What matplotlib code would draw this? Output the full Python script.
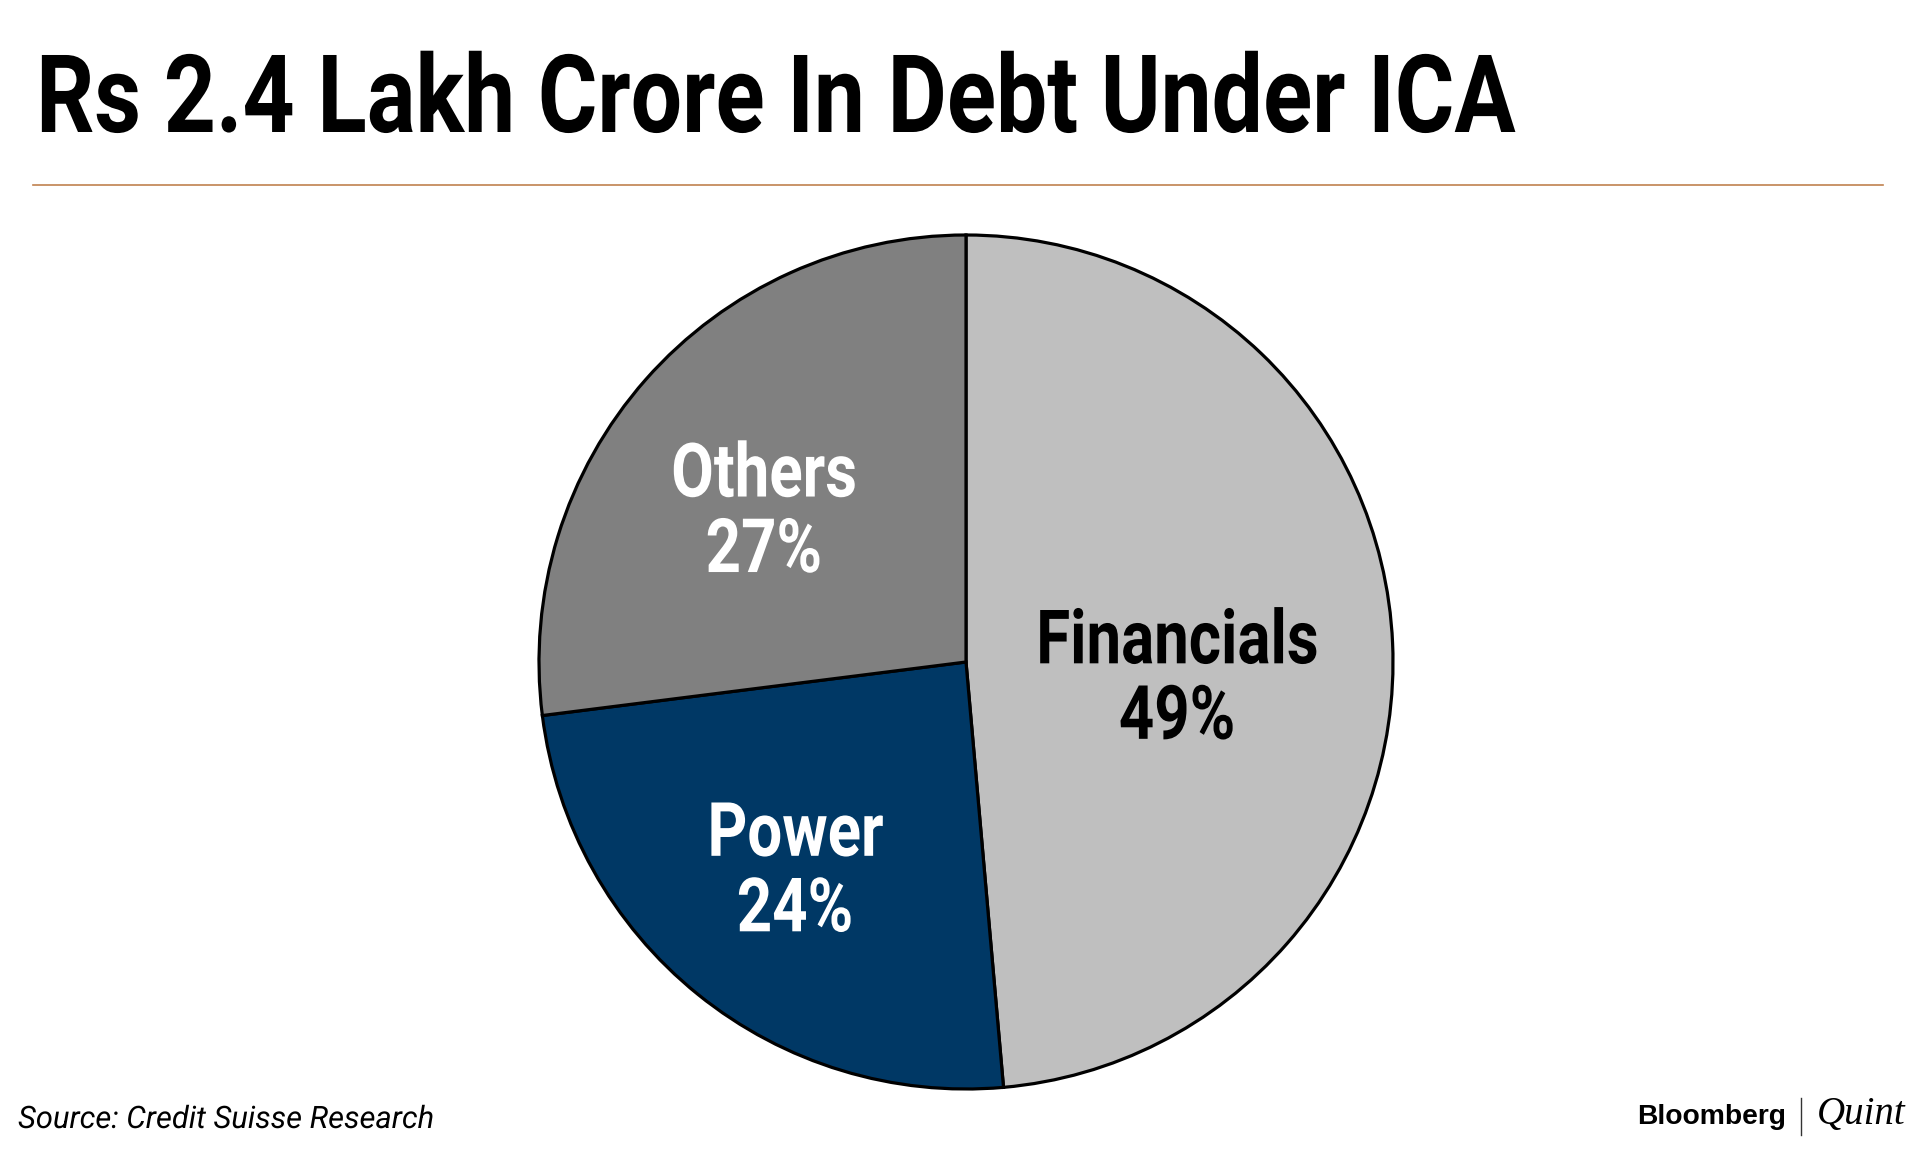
import matplotlib
matplotlib.use("Agg")
import matplotlib.pyplot as plt
import numpy as np
from matplotlib.patheffects import AbstractPathEffect
from matplotlib.transforms import Affine2D

# data
sectors = ["Financials", "Power", "Others"]
shares = [48.6, 24.4, 27.0]
colors = ["#bfbfbf", "#003865", "#808080"]
text_colors = ["black", "white", "white"]

W, H = 1920, 1149
FONT = ["Roboto", "DejaVu Sans"]


# squeeze text horizontally, to get a condensed look from a regular face
class Squeeze(AbstractPathEffect):
    def __init__(self, sx, anchor="center"):
        super().__init__()
        self.sx = sx
        self.anchor = anchor

    def draw_path(self, renderer, gc, tpath, affine, rgbFace=None):
        bb = tpath.get_extents(affine)
        x0 = bb.x0 if self.anchor == "left" else (bb.x0 + bb.x1) / 2
        sq = Affine2D().translate(-x0, 0).scale(self.sx, 1).translate(x0, 0)
        renderer.draw_path(gc, tpath, affine + sq, rgbFace)


def fx(px):
    return px / W


def fy(py):
    return 1 - py / H


fig = plt.figure(figsize=(W / 100, H / 100), dpi=100)
fig.patch.set_facecolor("white")
renderer = fig.canvas.get_renderer()


def fit(t, target_px, anchor):
    # scale factor so the squeezed text is target_px wide
    sx = target_px / t.get_window_extent(renderer).width
    t.set_path_effects([Squeeze(sx, anchor)])
    return sx


# title + rule
title = fig.text(fx(35), fy(132), "Rs 2.4 Lakh Crore In Debt Under ICA", family=FONT,
                 fontweight="bold", fontsize=78, va="baseline", ha="left")
fit(title, 1480, "left")
fig.add_artist(plt.Line2D([fx(33), fx(1883)], [fy(185), fy(185)],
                          color="#c0824f", linewidth=1.2))

# pie
cx, cy, r = 966, 662, 427
ax = fig.add_axes([fx(cx - r), fy(cy + r), 2 * r / W, 2 * r / H])
wedges, _ = ax.pie(shares, colors=colors, startangle=90, counterclock=False,
                   radius=1, wedgeprops=dict(edgecolor="black", linewidth=2.3))
for w in wedges:
    w.set_clip_on(False)
ax.set_xlim(-1, 1)
ax.set_ylim(-1, 1)
ax.set_aspect("equal")
ax.axis("off")

# last-line baseline spot (radius, angle in degrees) per sector
label_pos = [(0.526, -20.0), (0.747, 237.6), (0.518, 156.0)]

probe = fig.text(0, 0, "Financials", family=FONT, fontweight="bold", fontsize=54)
label_sx = 282 / probe.get_window_extent(renderer).width
probe.remove()

for name, val, tc, (lr, la) in zip(sectors, shares, text_colors, label_pos):
    a = np.deg2rad(la)
    t = ax.text(lr * np.cos(a), lr * np.sin(a), f"{name}\n{round(val)}%",
                family=FONT, fontweight="bold", fontsize=54, color=tc,
                ha="center", va="baseline", linespacing=1.1)
    t.set_path_effects([Squeeze(label_sx, "center")])

# footer
src = fig.text(fx(18), fy(1128), "Source: Credit Suisse Research", family=FONT,
               style="italic", fontsize=22.3, va="baseline", ha="left")
fit(src, 417, "left")
fig.text(fx(1637), fy(1124), "Bloomberg", family=["Liberation Sans", "DejaVu Sans"],
         fontweight="bold", fontsize=20.3, va="baseline", ha="left")
fig.add_artist(plt.Line2D([fx(1801), fx(1801)], [fy(1098), fy(1135)],
                          color="#333333", linewidth=1.0))
fig.text(fx(1817), fy(1124), "Quint", family=["Liberation Serif", "DejaVu Serif"],
         style="italic", fontsize=28, va="baseline", ha="left")

fig.savefig("out.png", dpi=100, facecolor="white")
